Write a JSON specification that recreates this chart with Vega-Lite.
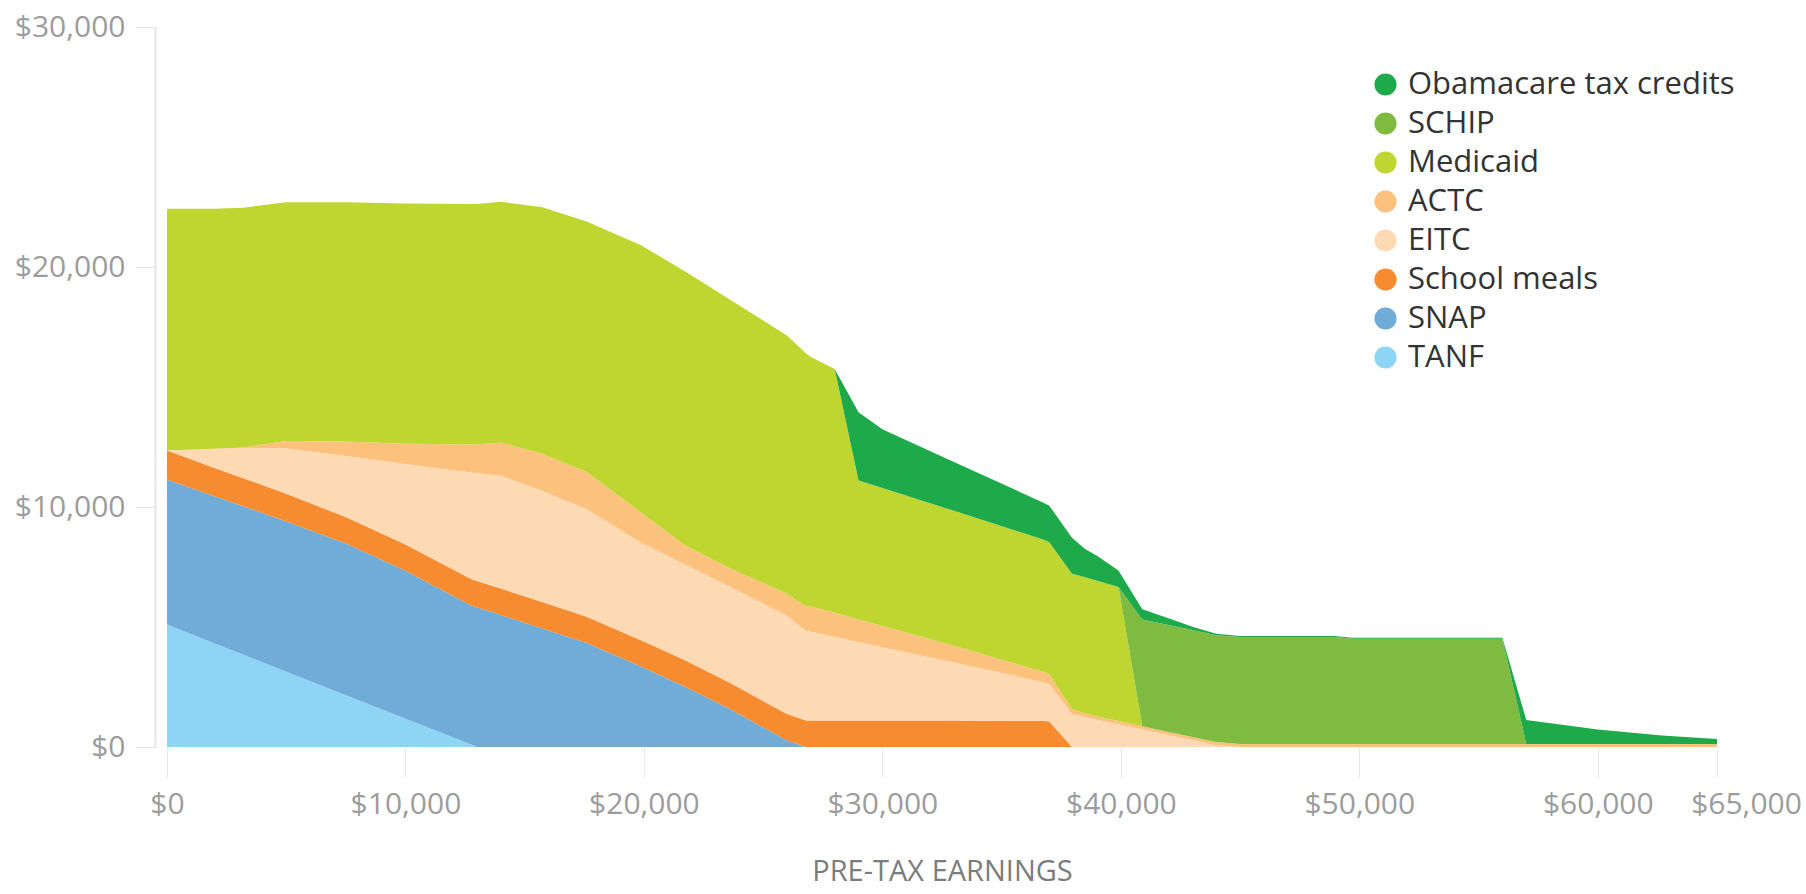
{
  "$schema": "https://vega.github.io/schema/vega-lite/v6.json",
  "width": 1550,
  "height": 720,
  "autosize": "none",
  "padding": {"left": 167, "top": 27, "right": 89, "bottom": 147},
  "background": "white",
  "config": {"view": {"stroke": null}, "font": "Open Sans"},
  "datasets": {
    "programs": [
      {"program": "TANF", "rank": 1},
      {"program": "SNAP", "rank": 2},
      {"program": "School meals", "rank": 3},
      {"program": "EITC", "rank": 4},
      {"program": "ACTC", "rank": 5},
      {"program": "Medicaid", "rank": 6},
      {"program": "SCHIP", "rank": 7},
      {"program": "Obamacare tax credits", "rank": 8}
    ],
    "benefits": [
      {"program": "TANF", "earnings": 0, "value": 5100},
      {"program": "TANF", "earnings": 2000, "value": 4315},
      {"program": "TANF", "earnings": 3200, "value": 3845},
      {"program": "TANF", "earnings": 5000, "value": 3140},
      {"program": "TANF", "earnings": 7500, "value": 2160},
      {"program": "TANF", "earnings": 10000, "value": 1175},
      {"program": "TANF", "earnings": 12750, "value": 100},
      {"program": "TANF", "earnings": 13000, "value": 0},
      {"program": "SNAP", "earnings": 0, "value": 6050},
      {"program": "SNAP", "earnings": 2000, "value": 6135},
      {"program": "SNAP", "earnings": 3200, "value": 6185},
      {"program": "SNAP", "earnings": 5000, "value": 6260},
      {"program": "SNAP", "earnings": 7500, "value": 6320},
      {"program": "SNAP", "earnings": 10000, "value": 6165},
      {"program": "SNAP", "earnings": 12750, "value": 5800},
      {"program": "SNAP", "earnings": 13000, "value": 5820},
      {"program": "SNAP", "earnings": 14000, "value": 5500},
      {"program": "SNAP", "earnings": 15700, "value": 4950},
      {"program": "SNAP", "earnings": 17600, "value": 4330},
      {"program": "SNAP", "earnings": 19900, "value": 3340},
      {"program": "SNAP", "earnings": 21750, "value": 2505},
      {"program": "SNAP", "earnings": 23600, "value": 1580},
      {"program": "SNAP", "earnings": 26000, "value": 270},
      {"program": "SNAP", "earnings": 26800, "value": 0},
      {"program": "School meals", "earnings": 0, "value": 1200},
      {"program": "School meals", "earnings": 2000, "value": 1180},
      {"program": "School meals", "earnings": 3200, "value": 1170},
      {"program": "School meals", "earnings": 5000, "value": 1150},
      {"program": "School meals", "earnings": 7500, "value": 1100},
      {"program": "School meals", "earnings": 10000, "value": 1100},
      {"program": "School meals", "earnings": 12750, "value": 1100},
      {"program": "School meals", "earnings": 13000, "value": 1100},
      {"program": "School meals", "earnings": 14000, "value": 1100},
      {"program": "School meals", "earnings": 15700, "value": 1100},
      {"program": "School meals", "earnings": 17600, "value": 1100},
      {"program": "School meals", "earnings": 19900, "value": 1100},
      {"program": "School meals", "earnings": 21750, "value": 1100},
      {"program": "School meals", "earnings": 23600, "value": 1100},
      {"program": "School meals", "earnings": 26000, "value": 1100},
      {"program": "School meals", "earnings": 26800, "value": 1100},
      {"program": "School meals", "earnings": 27000, "value": 1100},
      {"program": "School meals", "earnings": 28000, "value": 1100},
      {"program": "School meals", "earnings": 29000, "value": 1100},
      {"program": "School meals", "earnings": 30000, "value": 1100},
      {"program": "School meals", "earnings": 33000, "value": 1100},
      {"program": "School meals", "earnings": 36800, "value": 1080},
      {"program": "School meals", "earnings": 37000, "value": 1060},
      {"program": "School meals", "earnings": 37950, "value": 0},
      {"program": "EITC", "earnings": 0, "value": 0},
      {"program": "EITC", "earnings": 2000, "value": 800},
      {"program": "EITC", "earnings": 3200, "value": 1250},
      {"program": "EITC", "earnings": 5000, "value": 1900},
      {"program": "EITC", "earnings": 7500, "value": 2550},
      {"program": "EITC", "earnings": 10000, "value": 3350},
      {"program": "EITC", "earnings": 12750, "value": 4440},
      {"program": "EITC", "earnings": 13000, "value": 4490},
      {"program": "EITC", "earnings": 14000, "value": 4700},
      {"program": "EITC", "earnings": 15700, "value": 4640},
      {"program": "EITC", "earnings": 17600, "value": 4480},
      {"program": "EITC", "earnings": 19900, "value": 4065},
      {"program": "EITC", "earnings": 21750, "value": 3985},
      {"program": "EITC", "earnings": 23600, "value": 4000},
      {"program": "EITC", "earnings": 26000, "value": 4095},
      {"program": "EITC", "earnings": 26800, "value": 3740},
      {"program": "EITC", "earnings": 27000, "value": 3700},
      {"program": "EITC", "earnings": 28000, "value": 3490},
      {"program": "EITC", "earnings": 29000, "value": 3275},
      {"program": "EITC", "earnings": 30000, "value": 3060},
      {"program": "EITC", "earnings": 33000, "value": 2420},
      {"program": "EITC", "earnings": 36800, "value": 1610},
      {"program": "EITC", "earnings": 37000, "value": 1570},
      {"program": "EITC", "earnings": 37950, "value": 1370},
      {"program": "EITC", "earnings": 38500, "value": 1250},
      {"program": "EITC", "earnings": 39000, "value": 1140},
      {"program": "EITC", "earnings": 39900, "value": 950},
      {"program": "EITC", "earnings": 40900, "value": 735},
      {"program": "EITC", "earnings": 42000, "value": 500},
      {"program": "EITC", "earnings": 43000, "value": 290},
      {"program": "EITC", "earnings": 44000, "value": 75},
      {"program": "EITC", "earnings": 45000, "value": 0},
      {"program": "ACTC", "earnings": 0, "value": 0},
      {"program": "ACTC", "earnings": 2000, "value": 0},
      {"program": "ACTC", "earnings": 3200, "value": 30},
      {"program": "ACTC", "earnings": 5000, "value": 300},
      {"program": "ACTC", "earnings": 7500, "value": 600},
      {"program": "ACTC", "earnings": 10000, "value": 850},
      {"program": "ACTC", "earnings": 12750, "value": 1160},
      {"program": "ACTC", "earnings": 13000, "value": 1200},
      {"program": "ACTC", "earnings": 14000, "value": 1380},
      {"program": "ACTC", "earnings": 15700, "value": 1540},
      {"program": "ACTC", "earnings": 17600, "value": 1550},
      {"program": "ACTC", "earnings": 19900, "value": 1250},
      {"program": "ACTC", "earnings": 21750, "value": 800},
      {"program": "ACTC", "earnings": 23600, "value": 770},
      {"program": "ACTC", "earnings": 26000, "value": 920},
      {"program": "ACTC", "earnings": 26800, "value": 1000},
      {"program": "ACTC", "earnings": 27000, "value": 1050},
      {"program": "ACTC", "earnings": 28000, "value": 1000},
      {"program": "ACTC", "earnings": 29000, "value": 940},
      {"program": "ACTC", "earnings": 30000, "value": 880},
      {"program": "ACTC", "earnings": 33000, "value": 700},
      {"program": "ACTC", "earnings": 36800, "value": 420},
      {"program": "ACTC", "earnings": 37000, "value": 400},
      {"program": "ACTC", "earnings": 37950, "value": 200},
      {"program": "ACTC", "earnings": 38500, "value": 150},
      {"program": "ACTC", "earnings": 39000, "value": 130},
      {"program": "ACTC", "earnings": 39900, "value": 130},
      {"program": "ACTC", "earnings": 40900, "value": 130},
      {"program": "ACTC", "earnings": 42000, "value": 130},
      {"program": "ACTC", "earnings": 43000, "value": 130},
      {"program": "ACTC", "earnings": 44000, "value": 130},
      {"program": "ACTC", "earnings": 45000, "value": 130},
      {"program": "ACTC", "earnings": 49000, "value": 130},
      {"program": "ACTC", "earnings": 49700, "value": 130},
      {"program": "ACTC", "earnings": 56000, "value": 130},
      {"program": "ACTC", "earnings": 57000, "value": 130},
      {"program": "ACTC", "earnings": 60000, "value": 130},
      {"program": "ACTC", "earnings": 62700, "value": 130},
      {"program": "ACTC", "earnings": 65000, "value": 130},
      {"program": "Medicaid", "earnings": 0, "value": 10080},
      {"program": "Medicaid", "earnings": 2000, "value": 10000},
      {"program": "Medicaid", "earnings": 3200, "value": 9990},
      {"program": "Medicaid", "earnings": 5000, "value": 9950},
      {"program": "Medicaid", "earnings": 7500, "value": 9970},
      {"program": "Medicaid", "earnings": 10000, "value": 10010},
      {"program": "Medicaid", "earnings": 12750, "value": 10020},
      {"program": "Medicaid", "earnings": 13000, "value": 10010},
      {"program": "Medicaid", "earnings": 14000, "value": 10040},
      {"program": "Medicaid", "earnings": 15700, "value": 10270},
      {"program": "Medicaid", "earnings": 17600, "value": 10440},
      {"program": "Medicaid", "earnings": 19900, "value": 11145},
      {"program": "Medicaid", "earnings": 21750, "value": 11410},
      {"program": "Medicaid", "earnings": 23600, "value": 11200},
      {"program": "Medicaid", "earnings": 26000, "value": 10765},
      {"program": "Medicaid", "earnings": 26800, "value": 10560},
      {"program": "Medicaid", "earnings": 27000, "value": 10400},
      {"program": "Medicaid", "earnings": 28000, "value": 10160},
      {"program": "Medicaid", "earnings": 29000, "value": 5785},
      {"program": "Medicaid", "earnings": 30000, "value": 5750},
      {"program": "Medicaid", "earnings": 33000, "value": 5620},
      {"program": "Medicaid", "earnings": 36800, "value": 5520},
      {"program": "Medicaid", "earnings": 37000, "value": 5500},
      {"program": "Medicaid", "earnings": 37950, "value": 5650},
      {"program": "Medicaid", "earnings": 38500, "value": 5670},
      {"program": "Medicaid", "earnings": 39000, "value": 5660},
      {"program": "Medicaid", "earnings": 39900, "value": 5590},
      {"program": "Medicaid", "earnings": 40900, "value": 0},
      {"program": "SCHIP", "earnings": 39900, "value": 0},
      {"program": "SCHIP", "earnings": 40900, "value": 4450},
      {"program": "SCHIP", "earnings": 42000, "value": 4450},
      {"program": "SCHIP", "earnings": 43000, "value": 4450},
      {"program": "SCHIP", "earnings": 44000, "value": 4450},
      {"program": "SCHIP", "earnings": 45000, "value": 4450},
      {"program": "SCHIP", "earnings": 49000, "value": 4450},
      {"program": "SCHIP", "earnings": 49700, "value": 4380},
      {"program": "SCHIP", "earnings": 56000, "value": 4380},
      {"program": "SCHIP", "earnings": 57000, "value": 0},
      {"program": "Obamacare tax credits", "earnings": 28000, "value": 0},
      {"program": "Obamacare tax credits", "earnings": 29000, "value": 2850},
      {"program": "Obamacare tax credits", "earnings": 30000, "value": 2445},
      {"program": "Obamacare tax credits", "earnings": 33000, "value": 2040},
      {"program": "Obamacare tax credits", "earnings": 36800, "value": 1530},
      {"program": "Obamacare tax credits", "earnings": 37000, "value": 1525},
      {"program": "Obamacare tax credits", "earnings": 37950, "value": 1500},
      {"program": "Obamacare tax credits", "earnings": 38500, "value": 1180},
      {"program": "Obamacare tax credits", "earnings": 39000, "value": 1040},
      {"program": "Obamacare tax credits", "earnings": 39900, "value": 685},
      {"program": "Obamacare tax credits", "earnings": 40900, "value": 420},
      {"program": "Obamacare tax credits", "earnings": 42000, "value": 285},
      {"program": "Obamacare tax credits", "earnings": 43000, "value": 140},
      {"program": "Obamacare tax credits", "earnings": 44000, "value": 60},
      {"program": "Obamacare tax credits", "earnings": 45000, "value": 40},
      {"program": "Obamacare tax credits", "earnings": 49000, "value": 40},
      {"program": "Obamacare tax credits", "earnings": 49700, "value": 40},
      {"program": "Obamacare tax credits", "earnings": 56000, "value": 40},
      {"program": "Obamacare tax credits", "earnings": 57000, "value": 1000},
      {"program": "Obamacare tax credits", "earnings": 60000, "value": 600},
      {"program": "Obamacare tax credits", "earnings": 62700, "value": 350},
      {"program": "Obamacare tax credits", "earnings": 65000, "value": 200}
    ]
  },
  "data": {"name": "benefits"},
  "transform": [
    {"lookup": "program", "from": {"data": {"name": "programs"}, "key": "program", "fields": ["rank"]}}
  ],
  "mark": {"type": "area", "interpolate": "linear"},
  "encoding": {
    "x": {
      "field": "earnings",
      "type": "quantitative",
      "scale": {"domain": [0, 65000], "nice": false, "zero": true},
      "axis": {
        "values": [0, 10000, 20000, 30000, 40000, 50000, 60000, 65000],
        "format": "$,.0f",
        "domain": false,
        "grid": false,
        "ticks": true,
        "tickSize": 30,
        "tickColor": "#e8e8e8",
        "tickWidth": 1,
        "labelFont": "Open Sans",
        "labelFontSize": 30,
        "labelColor": "#9c9c9c",
        "labelPadding": 12,
        "labelFlush": false,
        "labelOverlap": false,
        "labelOffset": {"expr": "datum.value == 65000 ? 29 : 0"},
        "title": "PRE-TAX EARNINGS",
        "titleFont": "Open Sans",
        "titleFontSize": 29,
        "titleFontWeight": "normal",
        "titleColor": "#7c7c7c",
        "titlePadding": 38
      }
    },
    "y": {
      "field": "value",
      "type": "quantitative",
      "stack": "zero",
      "scale": {"domain": [0, 30000], "nice": false},
      "axis": {
        "values": [0, 10000, 20000, 30000],
        "format": "$,.0f",
        "offset": 12,
        "domain": true,
        "domainColor": "#e4e4e4",
        "domainWidth": 2,
        "grid": false,
        "ticks": true,
        "tickSize": 20,
        "tickColor": "#e4e4e4",
        "tickWidth": 1,
        "labelFont": "Open Sans",
        "labelFontSize": 30,
        "labelColor": "#9c9c9c",
        "labelPadding": 10,
        "title": null
      }
    },
    "color": {
      "field": "program",
      "type": "nominal",
      "scale": {
        "domain": ["Obamacare tax credits", "SCHIP", "Medicaid", "ACTC", "EITC", "School meals", "SNAP", "TANF"],
        "range": ["#1eaa4a", "#7fbb40", "#bfd630", "#fcc17c", "#fdd9b4", "#f68b2f", "#71acd9", "#8ed4f4"]
      },
      "legend": {
        "orient": "none",
        "legendX": 1203,
        "legendY": 42,
        "title": null,
        "symbolType": "circle",
        "symbolSize": 490,
        "symbolStrokeWidth": 0,
        "symbolOpacity": 1,
        "labelFont": "Open Sans",
        "labelFontSize": 31,
        "labelColor": "#333333",
        "labelOffset": 7,
        "labelLimit": 600,
        "rowPadding": 7,
        "padding": 0
      }
    },
    "order": {"field": "rank", "type": "quantitative", "sort": "ascending"}
  }
}
